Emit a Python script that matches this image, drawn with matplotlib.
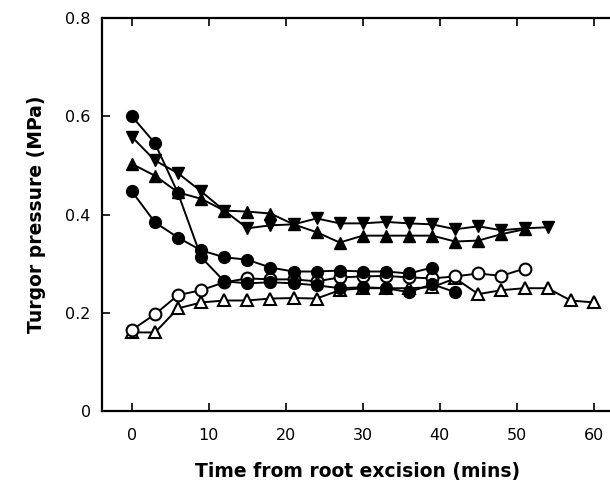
import matplotlib
matplotlib.use('Agg')
import matplotlib.pyplot as plt

# time points (mins)
t_circ_a = [0, 3, 6, 9, 12, 15, 18, 21, 24, 27, 30, 33, 36, 39, 42]
circ_a = [0.600, 0.545, 0.443, 0.313, 0.264, 0.260, 0.262, 0.260, 0.256,
          0.250, 0.252, 0.250, 0.242, 0.258, 0.242]

t_circ_b = [0, 3, 6, 9, 12, 15, 18, 21, 24, 27, 30, 33, 36, 39]
circ_b = [0.447, 0.384, 0.353, 0.327, 0.313, 0.308, 0.292, 0.284, 0.284,
          0.286, 0.284, 0.284, 0.280, 0.292]

t_open_circ = [0, 3, 6, 9, 12, 15, 18, 21, 24, 27, 30, 33, 36, 39, 42, 45, 48, 51]
open_circ = [0.165, 0.197, 0.236, 0.246, 0.262, 0.270, 0.268, 0.268, 0.264,
             0.272, 0.274, 0.275, 0.272, 0.270, 0.274, 0.280, 0.275, 0.290]

t_open_tri = [0, 3, 6, 9, 12, 15, 18, 21, 24, 27, 30, 33, 36, 39, 42, 45,
              48, 51, 54, 57, 60]
open_tri = [0.160, 0.160, 0.209, 0.221, 0.225, 0.225, 0.229, 0.230, 0.229,
            0.246, 0.250, 0.250, 0.250, 0.252, 0.270, 0.238, 0.246, 0.250,
            0.250, 0.225, 0.221]

t_tri_up = [0, 3, 6, 9, 12, 15, 18, 21, 24, 27, 30, 33, 36, 39, 42, 45, 48, 51]
tri_up = [0.503, 0.479, 0.445, 0.432, 0.408, 0.406, 0.402, 0.380, 0.364,
          0.343, 0.357, 0.357, 0.357, 0.357, 0.345, 0.347, 0.360, 0.370]

t_tri_down = [0, 3, 6, 9, 12, 15, 18, 21, 24, 27, 30, 33, 36, 39, 42, 45,
              48, 51, 54]
tri_down = [0.558, 0.510, 0.484, 0.447, 0.408, 0.372, 0.378, 0.380, 0.392,
            0.382, 0.382, 0.385, 0.382, 0.380, 0.370, 0.376, 0.368, 0.372,
            0.374]

x_ticks = [0, 10, 20, 30, 40, 50, 60]
y_ticks = [0, 0.2, 0.4, 0.6, 0.8]
y_tick_labels = ['0', '0.2', '0.4', '0.6', '0.8']

plt.rcParams['font.family'] = ['DejaVu Sans']

fig = plt.figure(figsize=(6.1, 4.87), dpi=100)
ax = fig.add_axes([0.167, 0.156, 0.838, 0.807])

lw = 1.4
ms = 8.5
ax.plot(t_tri_down, tri_down, color='black', lw=lw, marker='v', ms=ms,
        markerfacecolor='black')
ax.plot(t_tri_up, tri_up, color='black', lw=lw, marker='^', ms=ms,
        markerfacecolor='black')
ax.plot(t_open_tri, open_tri, color='black', lw=lw, marker='^', ms=ms,
        markerfacecolor='white', markeredgewidth=1.5)
ax.plot(t_open_circ, open_circ, color='black', lw=lw, marker='o', ms=ms,
        markerfacecolor='white', markeredgewidth=1.5)
ax.plot(t_circ_b, circ_b, color='black', lw=lw, marker='o', ms=ms,
        markerfacecolor='black')
ax.plot(t_circ_a, circ_a, color='black', lw=lw, marker='o', ms=ms,
        markerfacecolor='black')

ax.set_xlim(-3.9, 62.5)
ax.set_ylim(0, 0.8)
ax.set_xticks(x_ticks)
ax.set_yticks(y_ticks)
ax.set_yticklabels(y_tick_labels)
ax.tick_params(direction='in', length=6, width=1.2, labelsize=11.5,
               top=True, pad=8)
ax.tick_params(axis='x', pad=12)
for s in ['left', 'bottom', 'top']:
    ax.spines[s].set_linewidth(1.6)
ax.spines['right'].set_visible(False)

ax.set_xlabel('Time from root excision (mins)', fontsize=13.5,
              fontweight='bold', labelpad=14)
ax.set_ylabel('Turgor pressure (MPa)', fontsize=13.5, fontweight='bold',
              labelpad=14)

fig.savefig('out.png', dpi=100)
